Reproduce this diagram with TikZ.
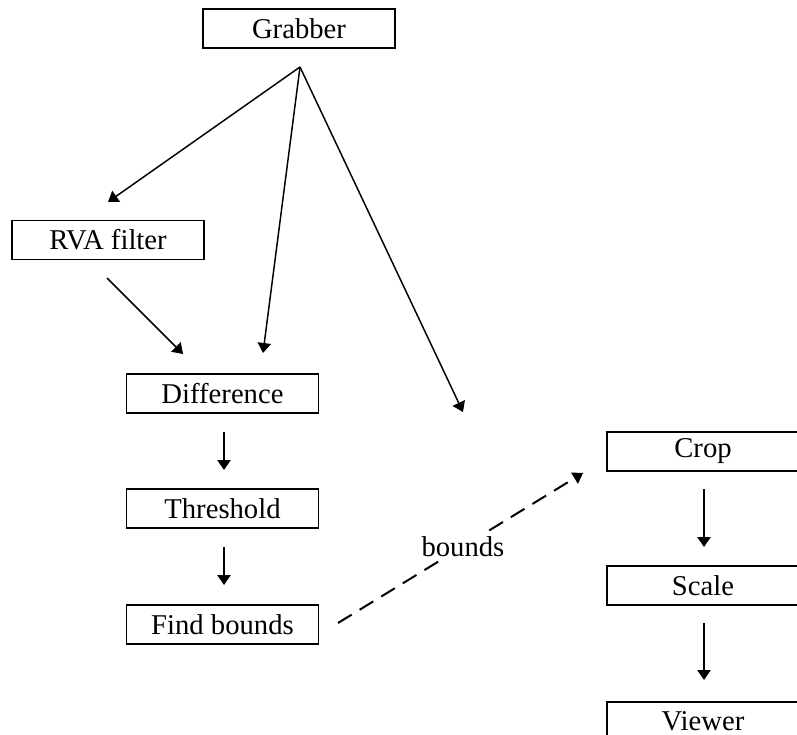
\documentclass[tikz,border=0pt]{standalone}
\usepackage{fontspec}
\setmainfont{Liberation Serif}
\usetikzlibrary{arrows.meta}
\begin{document}
\begin{tikzpicture}[x=0.75pt,y=-0.75pt,
  stagefont/.style={font=\fontsize{21.5}{25}\selectfont},
  stage/.style={stagefont,draw=black,line width=1.3pt,fill=white,minimum width=144pt,
    minimum height=29.25pt,inner sep=0pt},
  frame/.style={draw=black,line width=1.3pt},
  arr/.style={line width=1.1pt,-{Triangle[length=7.5pt,width=10pt]}},
  dasharr/.style={line width=1.5pt,dash pattern=on 12pt off 7pt,
    -{Triangle[length=7.5pt,width=10pt,line width=0pt]}},
  lbl/.style={stagefont,fill=white,inner sep=2pt}]
\useasboundingbox (0,0) rectangle (797,735);
\clip (0,0) rectangle (797,735);

% processing stages
\node[stage] (grab)   at (299,28.5)  {Grabber};
\node[stage] (rva)    at (108,240)   {RVA filter};
\node[stage] (diff)   at (222.5,393.5) {Difference};
\node[stage] (thr)    at (222.5,508.5) {Threshold};
\node[stage] (find)   at (222.5,624.5) {Find bounds};
\node[stage] (crop)   at (703,451.5) {Crop};
\node[stage] (scale)  at (703,585.5) {Scale};
% the viewer box runs past the lower edge
\node[stagefont,inner sep=0pt] (view) at (703,721) {Viewer};
\draw[frame] (607,760) -- (607,702) -- (800,702);

% arrow end points
\coordinate (fan)   at (300,67);
\coordinate (toRva) at (108,202);
\coordinate (toDif) at (263,353);
\coordinate (toCrp) at (463,412);
\coordinate (rvaA)  at (107,278);
\coordinate (rvaB)  at (183,354);
\coordinate (d1)    at (224,432);
\coordinate (d2)    at (224,470);
\coordinate (t1)    at (224,547);
\coordinate (t2)    at (224,585);
\coordinate (c1)    at (704,489);
\coordinate (c2)    at (704,547);
\coordinate (s1)    at (704,623);
\coordinate (s2)    at (704,680);
\coordinate (bA)    at (338,623);
\coordinate (bB)    at (583,473);

% frames fan out from the grabber
\draw[arr] (fan) -- (toRva);
\draw[arr] (fan) -- (toDif);
\draw[arr] (fan) -- (toCrp);

% detection chain
\draw[arr] (rvaA) -- (rvaB);
\draw[arr] (d1) -- (d2);
\draw[arr] (t1) -- (t2);

% output chain
\draw[arr] (c1) -- (c2);
\draw[arr] (s1) -- (s2);

% bounds passed to the crop stage
\draw[dasharr] (bA) -- (bB) node[lbl,pos=0.51] (blbl) {bounds};
\end{tikzpicture}
\end{document}
